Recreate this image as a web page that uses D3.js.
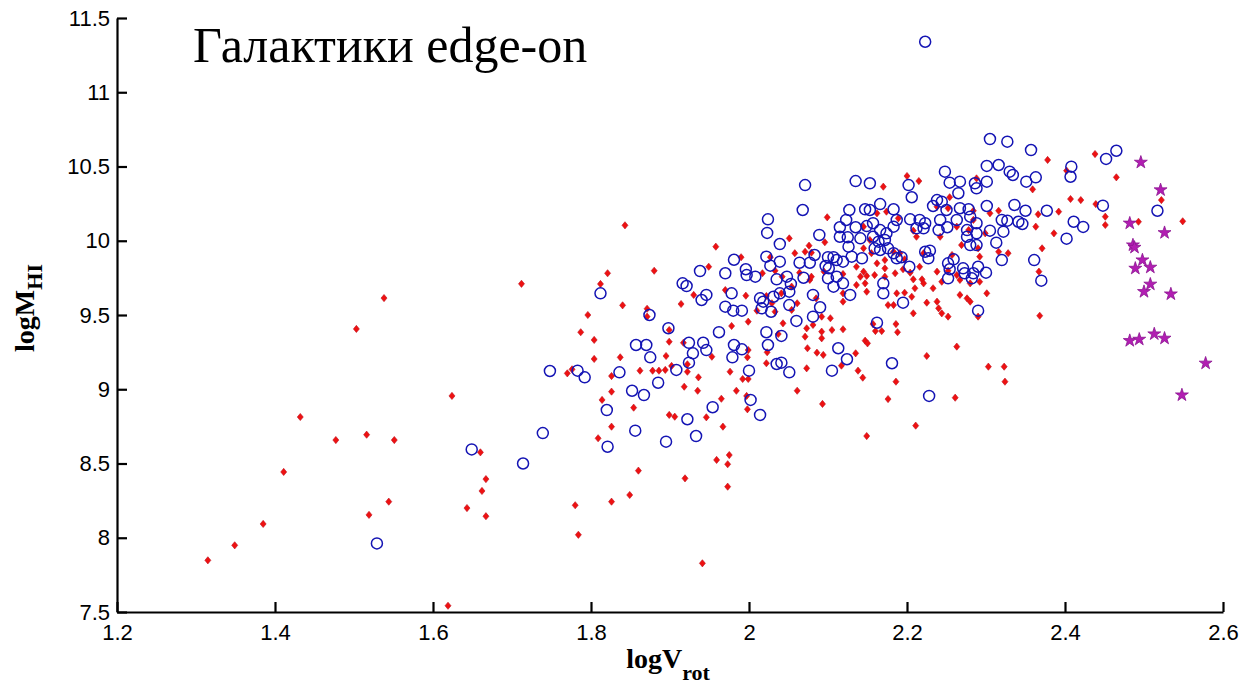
<!DOCTYPE html>
<html>
<head>
<meta charset="utf-8">
<script src="https://cdn.jsdelivr.net/npm/d3@7"></script>
<style>
  html, body { margin: 0; padding: 0; background: #fff; }
  svg { display: block; }
</style>
</head>
<body>
<svg id="chart" width="1249" height="689"></svg>
<script>
// ---- data ----
const titleText = "Галактики edge-on";
const xTicks = [1.2, 1.4, 1.6, 1.8, 2, 2.2, 2.4, 2.6];
const yTicks = [7.5, 8, 8.5, 9, 9.5, 10, 10.5, 11, 11.5];

// red filled diamonds
const redPoints = [
  [1.315,7.848],[1.349,7.949],[1.385,8.093],[1.411,8.443],[1.432,8.813],[1.477,8.658],[1.516,8.694],[1.551,8.658],
  [1.519,8.154],[1.544,8.243],[1.503,9.406],[1.538,9.614],[1.624,8.955],[1.619,7.542],[1.643,8.200],
  [1.660,8.575],[1.667,8.395],[1.662,8.315],[1.667,8.145],[1.712,9.710],[1.780,8.219],[1.784,8.020],[1.941,7.828],
  [1.843,10.104],[1.821,9.781],[1.880,9.798],[1.812,9.709],[1.840,9.565],[1.796,9.500],[1.871,9.542],[1.871,9.489],
  [1.930,9.635],[1.914,9.574],[1.949,9.825],
  [1.770,9.107],[1.776,9.134],[1.787,9.384],[1.804,9.332],[1.804,9.204],[1.826,9.089],[1.837,9.215],[1.862,9.125],
  [1.878,9.125],[1.886,9.125],[1.894,9.130],[1.902,9.157],[1.922,9.168],[1.922,9.118],[1.918,9.017],[1.936,9.080],
  [1.935,8.990],[1.826,8.984],[1.814,8.928],[1.854,8.876],[1.899,8.827],[1.906,8.815],[1.946,8.811],[1.826,8.748],
  [1.809,8.670],[1.860,8.452],[1.919,8.400],[1.849,8.288],[1.826,8.243],[1.899,9.399],[1.899,9.320],[1.895,9.224],
  [1.917,9.313],
  [1.978,9.426],[1.999,9.455],[2.043,9.444],[2.037,9.372],[2.071,9.354],[2.073,9.410],[2.081,9.433],[2.092,9.388],
  [2.092,9.343],[2.105,9.399],[2.119,9.404],[2.074,9.276],[2.086,9.246],[2.094,9.231],[2.135,9.242],[2.138,9.125],
  [2.117,9.159],[2.073,9.141],[2.022,9.175],[2.023,9.249],[1.999,9.264],[1.998,9.215],[1.953,9.219],[1.976,9.118],
  [1.992,9.069],[1.999,9.069],[1.984,8.990],[1.997,8.955],[1.998,8.865],[1.965,8.936],[1.967,8.748],[2.061,8.990],
  [2.093,8.901],[1.975,8.557],[1.959,8.524],[1.973,8.495],[1.973,8.344],
  [2.157,9.439],[2.186,9.439],[2.160,9.392],[2.168,9.392],[2.188,9.384],[2.147,9.327],[2.150,9.309],[2.263,9.287],
  [2.225,9.224],[2.144,9.078],[2.186,9.051],[2.303,9.152],[2.323,9.152],[2.324,9.051],[2.176,8.934],[2.261,8.943],
  [2.211,8.755],[2.149,8.685],
  [1.958,9.960],[1.990,9.889],[2.051,10.016],[2.076,9.967],[2.096,9.990],[2.099,10.158],[2.058,9.916],[2.071,9.926],
  [2.079,9.920],[2.017,9.781],[2.033,9.798],[2.027,9.889],[2.042,9.758],[2.064,9.785],[2.077,9.736],[2.079,9.758],
  [2.095,9.792],[2.119,9.776],[2.136,9.825],[2.136,9.702],[1.970,9.668],[1.996,9.630],[2.022,9.628],[2.029,9.579],
  [2.041,9.646],[2.054,9.691],[2.061,9.579],[2.085,9.612],[2.119,9.646],[2.119,9.590],[2.010,9.529],[2.033,9.522],
  [2.054,9.534],[2.092,9.489],[2.103,9.478],
  [2.200,10.436],[2.215,10.402],[2.170,10.364],[2.254,10.293],[2.288,10.420],[2.284,10.202],[2.305,10.185],[2.316,10.202],
  [2.238,10.229],[2.252,10.219],[2.145,10.095],[2.162,10.185],[2.174,10.196],[2.189,10.151],[2.208,10.068],[2.212,10.027],
  [2.242,10.027],[2.263,10.095],[2.284,10.140],[2.278,10.072],[2.299,10.050],[2.153,10.005],[2.145,9.949],[2.155,9.916],
  [2.183,9.926],[2.172,9.870],[2.191,9.916],[2.197,9.875],[2.221,9.916],[2.257,9.904],[2.269,9.971],[2.290,9.949],
  [2.292,9.893],[2.316,9.926],[2.328,9.916],[2.162,9.848],[2.145,9.792],[2.149,9.763],[2.172,9.814],[2.195,9.808],
  [2.204,9.785],[2.216,9.825],[2.238,9.792],[2.252,9.798],[2.263,9.769],[2.267,9.736],[2.280,9.713],[2.292,9.724],
  [2.172,9.758],[2.185,9.781],[2.208,9.740],[2.219,9.740],[2.221,9.713],[2.147,9.713],[2.149,9.657],[2.187,9.646],
  [2.197,9.650],[2.210,9.680],[2.233,9.680],[2.244,9.724],[2.267,9.635],[2.276,9.612],[2.280,9.590],[2.301,9.646],
  [2.238,9.590],[2.225,9.583],[2.176,9.567],[2.183,9.567],[2.206,9.623],[2.208,9.511],[2.240,9.545],[2.244,9.511],
  [2.252,9.489],[2.290,9.489],[2.159,9.769],[2.141,9.758],
  [2.378,10.544],[2.402,10.472],[2.438,10.584],[2.465,10.427],[2.359,10.346],[2.407,10.281],[2.420,10.274],[2.439,10.247],
  [2.366,10.178],[2.392,10.196],[2.451,10.162],[2.451,10.106],[2.493,10.128],[2.522,10.274],[2.549,10.131],[2.363,10.095],
  [2.386,10.050],[2.371,9.949],[2.367,9.792],[2.368,9.495]
];

// blue open circles
const bluePoints = [
  [1.529,7.962],[1.649,8.595],[1.714,8.500],[1.739,8.705],[1.748,9.123],[1.783,9.125],[1.792,9.080],
  [1.812,9.646],[1.874,9.500],[1.938,9.796],[1.916,9.713],[1.921,9.695],[1.940,9.601],[1.946,9.635],
  [1.857,9.298],[1.870,9.298],[1.875,9.215],[1.836,9.114],[1.885,9.044],[1.852,8.990],[1.867,8.961],[1.820,8.860],
  [1.856,8.721],[1.821,8.613],[1.895,8.647],[1.922,8.798],[1.933,8.685],[1.908,9.130],[1.924,9.313],[1.929,9.242],
  [1.942,9.313],[1.924,9.179],[1.898,9.411],[1.946,9.264],
  [1.962,9.384],[2.022,9.384],[2.041,9.359],[1.981,9.298],[1.991,9.269],[1.979,9.215],[2.024,9.298],[2.035,9.170],
  [2.041,9.179],[2.051,9.114],[2.000,9.125],[2.002,8.928],[2.014,8.827],[1.954,8.879],[2.113,9.276],[2.124,9.202],
  [2.105,9.125],
  [2.162,9.448],[2.181,9.175],[2.228,8.955],
  [2.071,10.375],[2.068,10.207],[2.135,10.402],[2.024,10.144],[2.023,10.053],[2.089,10.039],[2.039,9.978],[2.127,10.207],
  [2.123,10.140],[2.115,10.091],[2.135,10.091],[2.115,10.027],[2.125,10.023],[2.126,9.960],[2.022,9.893],[2.027,9.832],
  [2.039,9.859],[2.064,9.852],[2.077,9.852],[2.083,9.904],[2.100,9.889],[2.107,9.889],[2.111,9.870],[2.119,9.859],
  [2.130,9.893],[1.981,9.872],[1.970,9.781],[1.996,9.808],[1.997,9.769],[2.008,9.758],[2.035,9.740],[2.048,9.758],
  [2.069,9.751],[2.100,9.747],[2.111,9.758],[2.101,9.814],[2.097,9.830],[2.107,9.691],[2.119,9.713],[2.128,9.635],
  [1.978,9.646],[2.014,9.612],[2.018,9.590],[2.031,9.623],[2.039,9.646],[2.051,9.657],[2.053,9.709],[2.081,9.635],
  [2.090,9.552],[1.970,9.556],[1.980,9.529],[1.991,9.529],[2.016,9.545],[2.028,9.522],[2.051,9.567],[2.060,9.460],
  [2.081,9.489],
  [2.305,10.685],[2.327,10.667],[2.301,10.504],[2.316,10.510],[2.248,10.465],[2.254,10.391],[2.267,10.398],[2.202,10.375],
  [2.206,10.293],[2.286,10.387],[2.288,10.353],[2.301,10.398],[2.265,10.320],[2.238,10.274],[2.244,10.263],[2.233,10.234],
  [2.250,10.207],[2.267,10.219],[2.278,10.212],[2.301,10.234],[2.153,10.387],[2.166,10.247],[2.147,10.212],[2.153,10.207],
  [2.183,10.212],[2.187,10.140],[2.204,10.144],[2.216,10.140],[2.223,10.118],[2.242,10.140],[2.212,10.084],[2.221,10.084],
  [2.240,10.072],[2.251,10.091],[2.263,10.140],[2.288,10.118],[2.280,10.162],[2.276,10.072],[2.288,10.050],[2.149,10.099],
  [2.157,10.118],[2.166,10.072],[2.174,10.050],[2.183,10.095],[2.157,10.027],[2.164,9.994],[2.172,10.005],[2.159,9.949],
  [2.166,9.938],[2.176,9.949],[2.183,9.916],[2.187,9.882],[2.193,9.889],[2.203,9.825],[2.223,9.926],[2.229,9.933],
  [2.227,9.882],[2.252,9.848],[2.254,9.808],[2.259,9.875],[2.280,9.971],[2.288,9.971],[2.276,10.027],[2.322,10.061],
  [2.320,9.870],[2.290,9.825],[2.271,9.814],[2.273,9.781],[2.284,9.781],[2.300,9.785],[2.282,9.747],[2.252,9.747],
  [2.170,9.713],[2.170,9.646],[2.195,9.583],[2.290,9.529],[2.143,9.882],[2.141,10.016],
  [2.223,11.340],[2.357,10.611],[2.330,10.465],[2.334,10.443],[2.351,10.398],[2.363,10.427],[2.408,10.499],[2.407,10.431],
  [2.452,10.551],[2.465,10.606],[2.448,10.236],[2.517,10.202],[2.336,10.241],[2.350,10.202],[2.377,10.202],[2.411,10.128],
  [2.423,10.093],[2.402,10.014],[2.341,10.128],[2.346,10.113],[2.320,10.140],[2.327,10.135],[2.305,10.068],[2.313,9.987],
  [2.361,9.870],[2.370,9.731]
];

// magenta stars
const starPoints = [
  [2.496,10.528],[2.521,10.342],[2.482,10.118],[2.526,10.054],[2.486,9.971],[2.488,9.955],[2.498,9.870],[2.489,9.814],
  [2.508,9.821],[2.508,9.707],[2.500,9.657],[2.534,9.641],[2.482,9.327],[2.494,9.336],[2.513,9.372],[2.526,9.343],
  [2.578,9.175],[2.548,8.961]
];

// ---- drawing ----
const svg = d3.select("#chart");
const x = d3.scaleLinear().domain([1.2, 2.6]).range([117, 1223]);
const y = d3.scaleLinear().domain([7.5, 11.5]).range([612, 18]);

// points
const diamond = "M0,-3.6L3,0L0,3.6L-3,0Z";
svg.append("g").selectAll("path").data(redPoints).join("path")
  .attr("d", diamond)
  .attr("transform", d => `translate(${x(d[0])},${y(d[1])})`)
  .attr("fill", "#ee1111")
  .attr("stroke", "#c0101e")
  .attr("stroke-width", 0.6);

svg.append("g").selectAll("circle").data(bluePoints).join("circle")
  .attr("cx", d => x(d[0]))
  .attr("cy", d => y(d[1]))
  .attr("r", 5.5)
  .attr("fill", "none")
  .attr("stroke", "#1414b4")
  .attr("stroke-width", 1.5);

const star = d3.symbol().type(d3.symbolStar).size(52);
svg.append("g").selectAll("path").data(starPoints).join("path")
  .attr("d", star)
  .attr("transform", d => `translate(${x(d[0])},${y(d[1])})`)
  .attr("fill", "#b21db2")
  .attr("stroke", "#8a1490")
  .attr("stroke-width", 0.8);

// axes
const xAxis = d3.axisBottom(x).tickValues(xTicks).tickFormat(d => String(d))
  .tickSizeInner(-10).tickSizeOuter(0).tickPadding(12);
const yAxis = d3.axisLeft(y).tickValues(yTicks).tickFormat(d => String(d))
  .tickSizeInner(-10).tickSizeOuter(0).tickPadding(7);

const gx = svg.append("g").attr("transform", "translate(0,612)").call(xAxis);
const gy = svg.append("g").attr("transform", "translate(117,0)").call(yAxis);
[gx, gy].forEach(g => {
  g.select(".domain").attr("stroke", "#000").attr("stroke-width", 2.2);
  g.selectAll(".tick line").attr("stroke", "#000").attr("stroke-width", 2.2);
  g.selectAll(".tick text").attr("fill", "#000")
    .style("font-family", "'Liberation Sans', Arial, sans-serif").style("font-size", "22px");
});

// title
svg.append("text")
  .attr("x", 193).attr("y", 62)
  .style("font-family", "'Liberation Serif', 'Times New Roman', serif")
  .style("font-size", "50px")
  .attr("fill", "#000")
  .text(titleText);

// x label
const xl = svg.append("text")
  .attr("x", 668).attr("y", 668)
  .attr("text-anchor", "middle")
  .style("font-family", "'Liberation Serif', 'Times New Roman', serif")
  .style("font-weight", "bold")
  .style("font-size", "28px")
  .attr("fill", "#000");
xl.append("tspan").text("logV");
xl.append("tspan").attr("dy", 12).style("font-size", "22px").text("rot");

// y label
const yl = svg.append("text")
  .attr("transform", "translate(34,308) rotate(-90)")
  .attr("text-anchor", "middle")
  .style("font-family", "'Liberation Serif', 'Times New Roman', serif")
  .style("font-weight", "bold")
  .style("font-size", "28px")
  .attr("fill", "#000");
yl.append("tspan").text("logM");
yl.append("tspan").attr("dy", 8).style("font-size", "22px").text("HI");
</script>
</body>
</html>
